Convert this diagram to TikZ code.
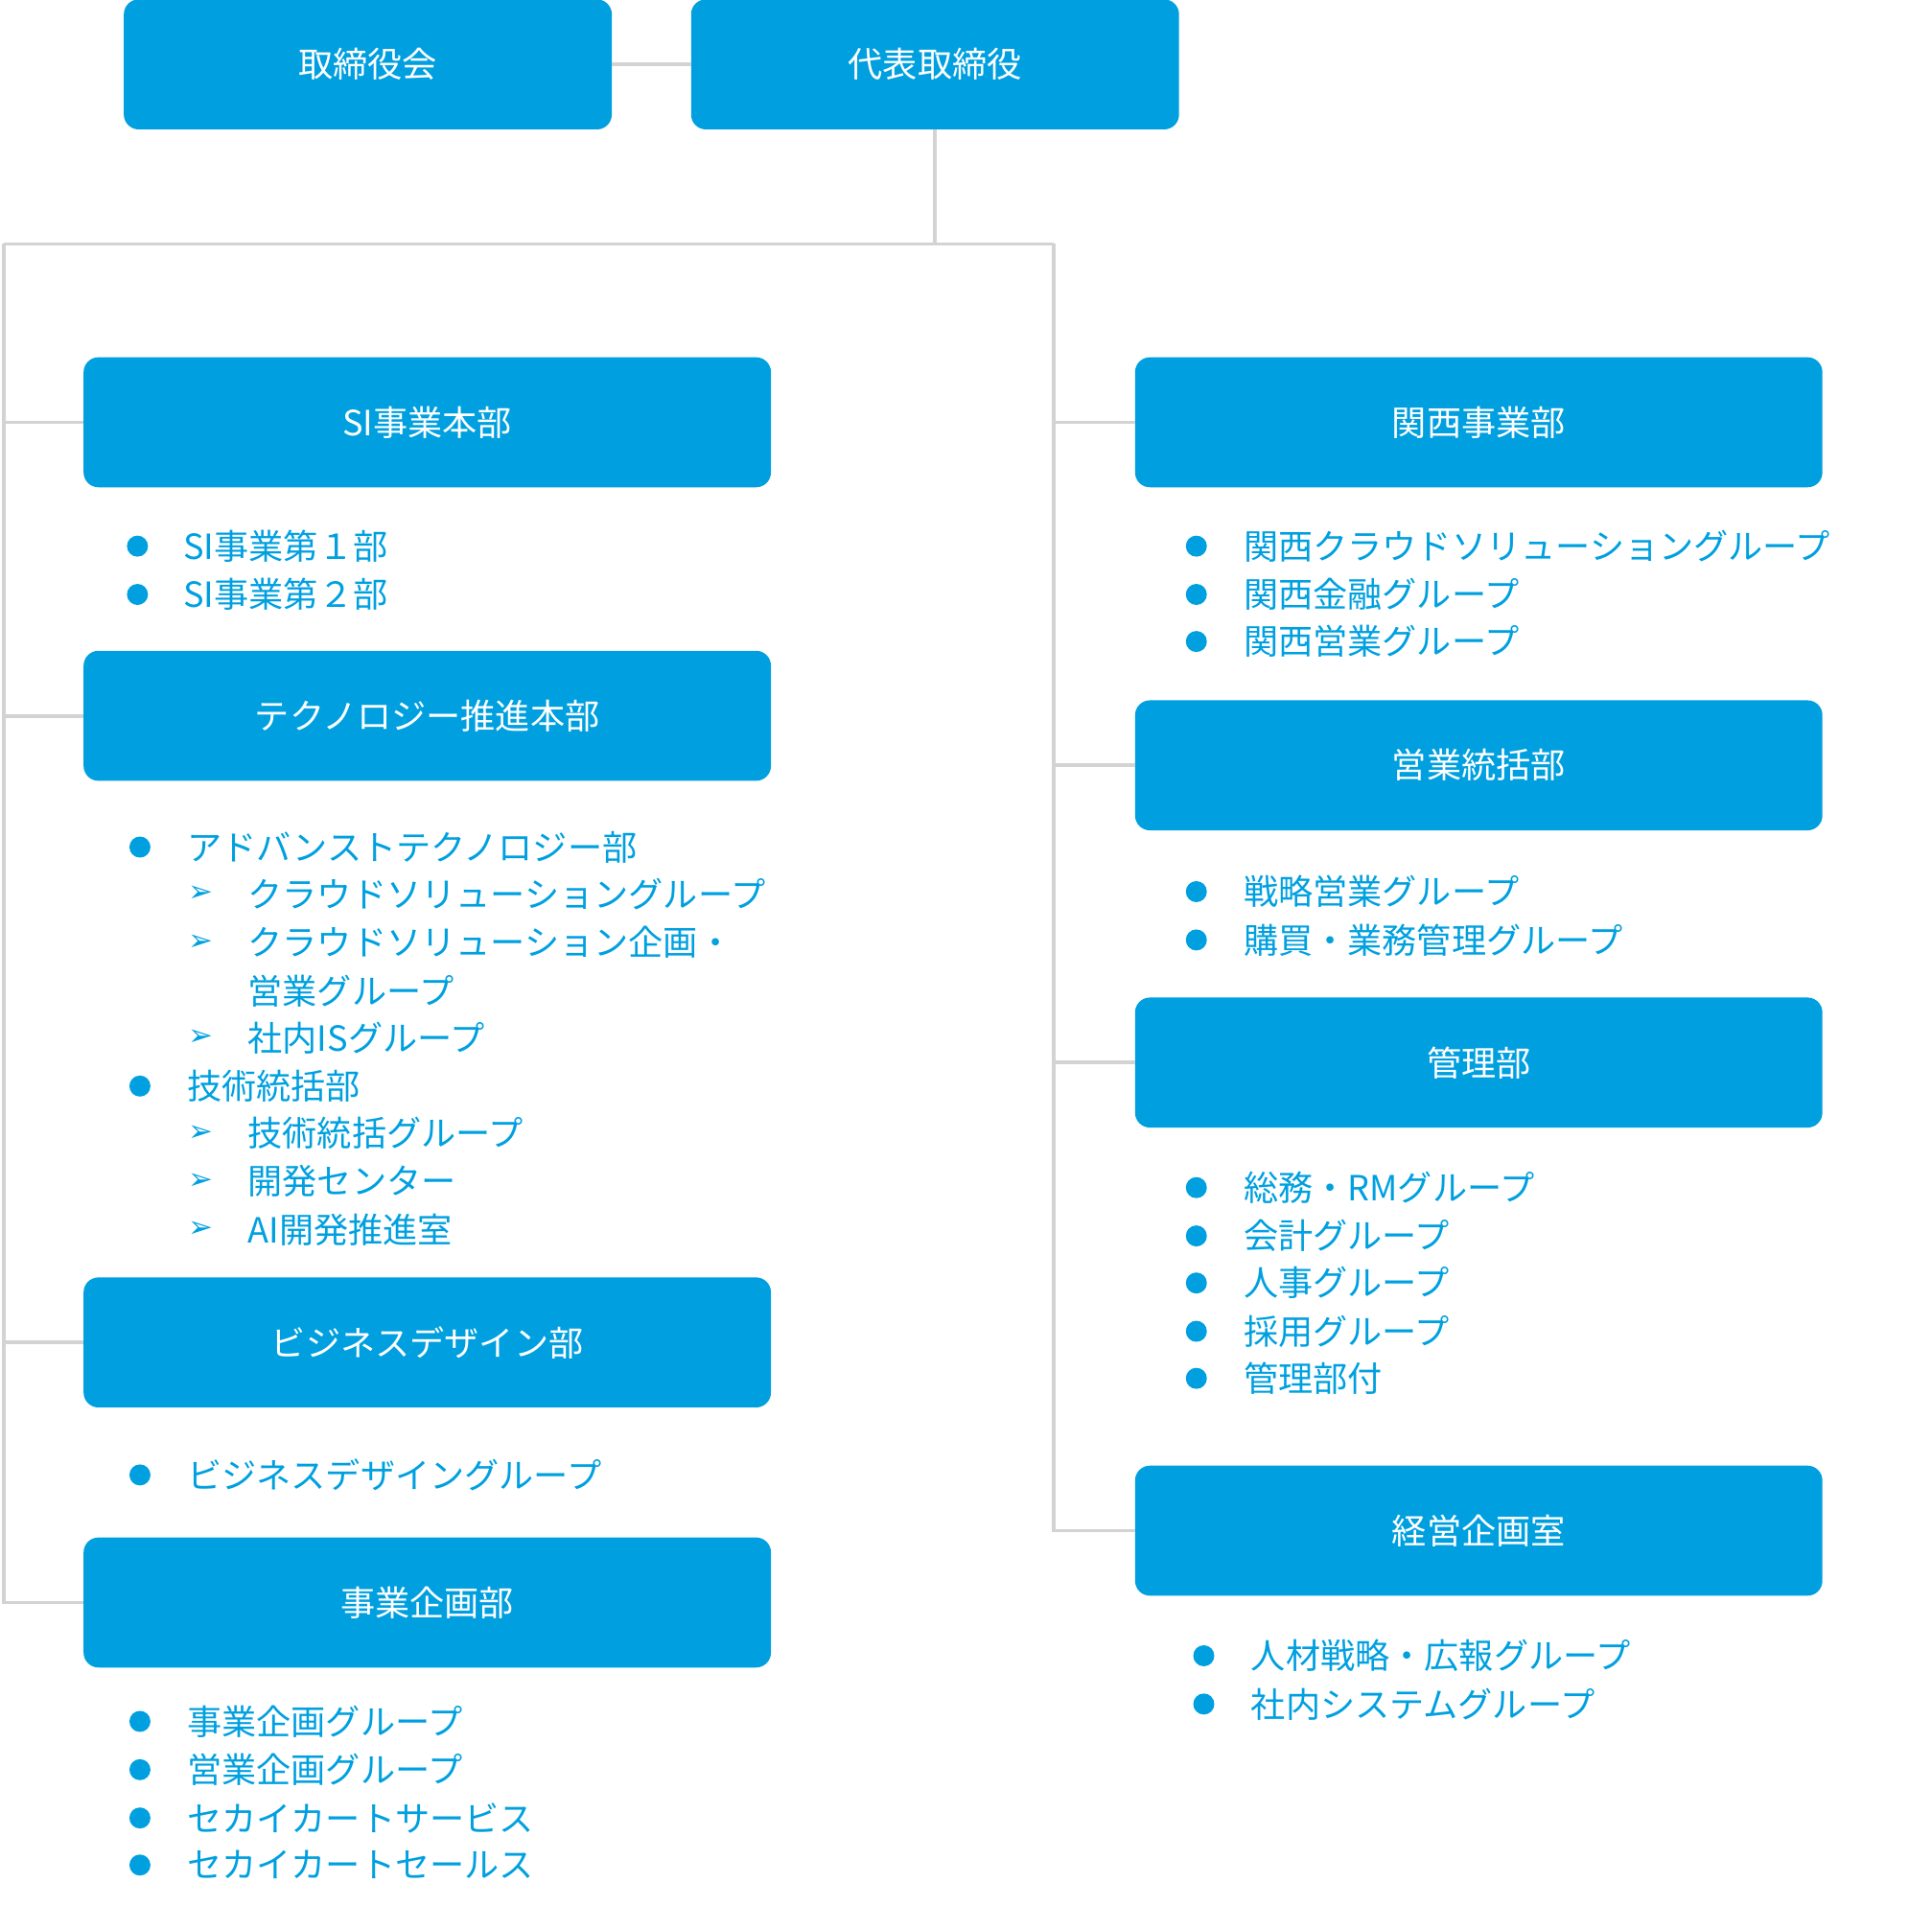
\documentclass[tikz,border=0pt]{standalone}
\usepackage{fontspec}
\setmainfont{Noto Sans CJK JP}
\newfontfamily\dejavu{DejaVu Sans}
\definecolor{brand}{HTML}{00A0E0}
\definecolor{conn}{HTML}{D3D3D3}
\begin{document}
\begin{tikzpicture}[x=1pt,y=-1pt,
  box/.style={fill=brand,rounded corners=12pt,minimum width=555pt,minimum height=105pt,text=white,font=\fontsize{28}{28}\selectfont,inner sep=0pt},
  tbox/.style={box,minimum width=394pt},
  ln/.style={draw=conn,line width=3pt},
  it/.style={anchor=west,text=brand,font=\fontsize{28}{30}\selectfont,inner sep=0pt},
  bul/.style={circle,fill=brand,minimum size=17pt,inner sep=0pt},
  arr/.style={text=brand,font=\dejavu\fontsize{24}{24}\selectfont,inner sep=0pt}]
\useasboundingbox (0,0) rectangle (1560,1539);
\node[tbox] (a) at (297,52) {取締役会};
\node[tbox] (b) at (755,52) {代表取締役};
\draw[ln] (a) -- (b);
\coordinate (t) at (755,197);
\coordinate (tl) at (3,197);
\coordinate (tr) at (851,197);
\coordinate (bl) at (3,1295);
\coordinate (br) at (851,1237);
\draw[ln] (b) -- (t);
\draw[ln] (tl) -- (tr);
\draw[ln] (tl) -- (bl);
\draw[ln] (tr) -- (br);
\foreach \n/\y/\t in {l1/341/SI事業本部,l2/578/テクノロジー推進本部,l3/1084/ビジネスデザイン部,l4/1294/事業企画部}{
  \node[box] (\n) at (345,\y) {\t};
  \coordinate (\n c) at (3,\y);
  \draw[ln] (\n c) -- (\n);
}
\foreach \n/\y/\t in {r1/341/関西事業部,r2/618/営業統括部,r3/858/管理部,r4/1236/経営企画室}{
  \node[box] (\n) at (1194,\y) {\t};
  \coordinate (\n c) at (851,\y);
  \draw[ln] (\n c) -- (\n);
}
% left lists
\foreach \y/\t [count=\i] in {441/SI事業第１部,480/SI事業第２部}{
  \node[bul] (sb\i) at (111,\y) {}; \node[it] (st\i) at (148,\y) {\t};}
\foreach \y/\t [count=\i] in {684/アドバンストテクノロジー部,877/技術統括部,1191/ビジネスデザイングループ,1390/事業企画グループ,1429/営業企画グループ,1468/セカイカートサービス,1506/セカイカートセールス}{
  \node[bul] (tb\i) at (113,\y) {}; \node[it] (tt\i) at (151,\y) {\t};}
\foreach \y/\t [count=\i] in {722/クラウドソリューショングループ,761/クラウドソリューション企画・,838/社内ISグループ,915/技術統括グループ,954/開発センター,993/AI開発推進室}{
  \node[arr] (ta\i) at (162,\y) {➢}; \node[it] (tx\i) at (200,\y) {\t};}
\node[it] (tx7) at (200,800) {営業グループ};
% right lists
\foreach \y/\t [count=\i] in {441/関西クラウドソリューショングループ,480/関西金融グループ,518/関西営業グループ,720/戦略営業グループ,759/購買・業務管理グループ,959/総務・RMグループ,998/会計グループ,1036/人事グループ,1075/採用グループ,1113/管理部付}{
  \node[bul] (rb\i) at (966,\y) {}; \node[it] (rt\i) at (1004,\y) {\t};}
\foreach \y/\t [count=\i] in {1337/人材戦略・広報グループ,1376/社内システムグループ}{
  \node[bul] (kb\i) at (972,\y) {}; \node[it] (kt\i) at (1010,\y) {\t};}
\end{tikzpicture}
\end{document}
